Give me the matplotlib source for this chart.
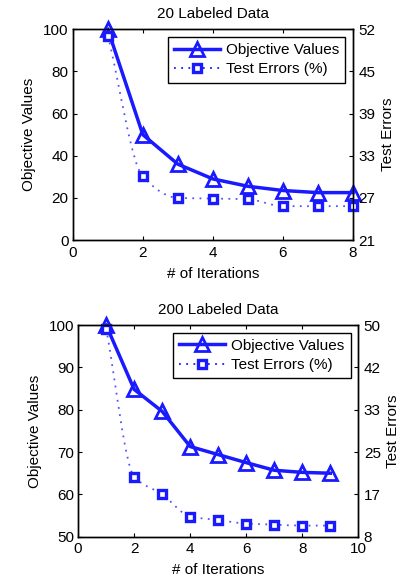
import numpy as np
import matplotlib
matplotlib.use("Agg")
import matplotlib.pyplot as plt
from matplotlib.path import Path
from matplotlib.patches import PathPatch
from matplotlib.lines import Line2D

plt.rcParams['font.family'] = ['Liberation Sans', 'DejaVu Sans']
FS = 11
plt.rcParams['font.size'] = FS

# ---- data ----
iters_20 = [1, 2, 3, 4, 5, 6, 7, 8]
obj_20 = [100, 50, 36, 29, 25.5, 23.5, 22.5, 22.5]
err_20 = [50.6, 30.2, 27.1, 27.0, 26.9, 25.9, 25.9, 25.9]

iters_200 = [1, 2, 3, 4, 5, 6, 7, 8, 9]
obj_200 = [100, 84.8, 79.6, 71.3, 69.4, 67.5, 65.7, 65.2, 65.0]
err_200 = [49.5, 20.2, 16.7, 12.3, 11.6, 10.9, 10.7, 10.5, 10.5]

titles = ["20 Labeled Data", "200 Labeled Data"]
legend_labels = ["Objective Values", "Test Errors (%)"]
xlabel = "# of Iterations"
ylabel_left = "Objective Values"
ylabel_right = "Test Errors"

BLUE = '#1a1aff'


def smooth_path(x, y):
    x = np.asarray(x, float); y = np.asarray(y, float)
    h = np.diff(x); m = np.diff(y) / h
    n = len(x)
    d = np.zeros(n)
    d[0] = m[0]; d[-1] = m[-1]
    for i in range(1, n - 1):
        if m[i - 1] * m[i] <= 0:
            d[i] = 0
        else:
            w1 = 2 * h[i] + h[i - 1]; w2 = h[i] + 2 * h[i - 1]
            d[i] = (w1 + w2) / (w1 / m[i - 1] + w2 / m[i])
    verts = [(x[0], y[0])]; codes = [Path.MOVETO]
    for i in range(n - 1):
        verts += [(x[i] + h[i] / 3, y[i] + d[i] * h[i] / 3),
                  (x[i + 1] - h[i] / 3, y[i + 1] - d[i + 1] * h[i] / 3),
                  (x[i + 1], y[i + 1])]
        codes += [Path.CURVE4] * 3
    return Path(verts, codes)


def panel(rect, x, obj, err, title, xlim, xticks, ylim, yticks, rlim, rticklabels):
    ax = fig.add_axes(rect)
    ax2 = ax.twinx()
    ax.plot(x, obj, '-', color=BLUE, lw=2.5, marker='^', ms=9.5,
            mfc='none', mec=BLUE, mew=2, zorder=3, clip_on=False)
    patch = PathPatch(smooth_path(x, err), fill=False, edgecolor=BLUE,
                      lw=1.3, linestyle=(0, (1, 3)), alpha=0.75)
    ax2.add_patch(patch)
    ax2.plot(x, err, linestyle='none', marker='s', ms=6.2, mfc='white',
             mec=BLUE, mew=2.4, clip_on=False)
    ax.set_xlim(*xlim); ax.set_xticks(xticks)
    ax.set_ylim(*ylim); ax.set_yticks(yticks)
    ax2.set_ylim(*rlim)
    ax2.set_yticks(np.linspace(rlim[0], rlim[1], len(rticklabels)))
    ax2.set_yticklabels(rticklabels)
    for a in (ax, ax2):
        a.tick_params(direction='in', length=3, width=0.8, labelsize=FS, pad=3)
        for s in a.spines.values():
            s.set_linewidth(1.0)
    ax2.tick_params(pad=4)
    ax.tick_params(axis='x', pad=4)
    ax.tick_params(top=True)
    ax.set_title(title, fontsize=FS, pad=8)
    ax.set_xlabel(xlabel, labelpad=5)
    ax.set_ylabel(ylabel_left, labelpad=5)
    ax2.set_ylabel(ylabel_right, labelpad=4)
    h1 = Line2D([], [], color=BLUE, lw=2.5, marker='^', ms=9.5, mfc='none', mec=BLUE, mew=2)
    h2 = Line2D([], [], color=BLUE, lw=1.3, linestyle=(0, (1, 3)), marker='s', ms=6.2,
                mfc='white', mec=BLUE, mew=2.4)
    leg = ax2.legend([h1, h2], legend_labels, loc='upper right', fancybox=False,
                     framealpha=1, edgecolor='black', fontsize=FS, handlelength=3.0,
                     borderaxespad=0.5, borderpad=0.4, labelspacing=0.35, handletextpad=0.4)
    leg.get_frame().set_linewidth(1.0)
    return ax, ax2


fig = plt.figure(figsize=(4.09, 5.82), dpi=100)
panel([0.178, 0.5876, 0.685, 0.362], iters_20, obj_20, err_20, titles[0],
      (0, 8), [0, 2, 4, 6, 8], (0, 100), [0, 20, 40, 60, 80, 100],
      (21, 51.5), ['21', '27', '33', '39', '45', '52'])
panel([0.191, 0.0778, 0.685, 0.3637], iters_200, obj_200, err_200, titles[1],
      (0, 10), [0, 2, 4, 6, 8, 10], (50, 100), [50, 60, 70, 80, 90, 100],
      (8.3, 50.2), ['8', '17', '25', '33', '42', '50'])
fig.savefig("out.png", dpi=100)
